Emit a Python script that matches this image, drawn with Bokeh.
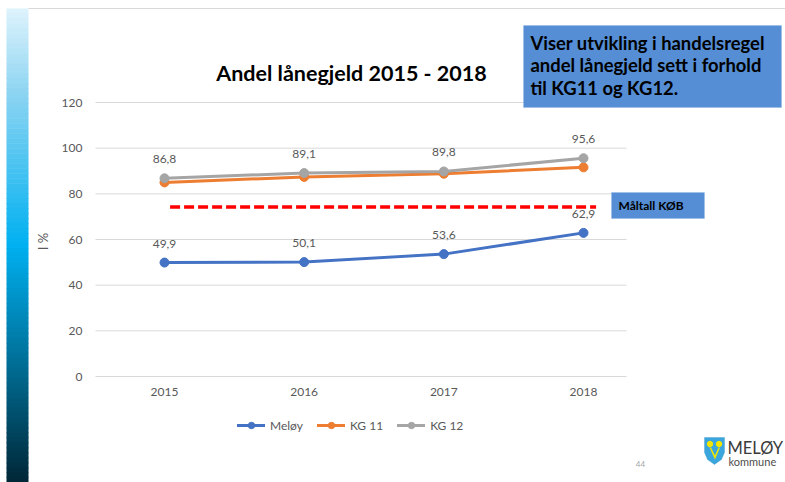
import numpy as np
from bokeh.plotting import figure
from bokeh.models import (Range1d, LinearAxis, FixedTicker, Label, BoxAnnotation,
                          PolyAnnotation, Legend, LegendItem)
from bokeh.embed import file_html
from bokeh.resources import INLINE

# ---------------- data ----------------
years = [2015, 2016, 2017, 2018]
x_tick_labels = ["2015", "2016", "2017", "2018"]
meloy = [49.9, 50.1, 53.6, 62.9]
kg11 = [85.0, 87.4, 88.8, 91.6]
kg12 = [86.8, 89.1, 89.8, 95.6]
target_years = [2015.04, 2018.09]
target_values = [74.2, 74.2]
y_ticks = [0, 20, 40, 60, 80, 100, 120]
series_names = ["Meløy", "KG 11", "KG 12"]

# ---------------- layout (page pixels) ----------------
W, H, M = 785, 482, 0
X2015_PX, XSTEP_PX = 164.0, 139.67
Y0_PX, YUNIT_PX = 376.0, 274.0 / 120.0
GRID_LEFT_PX, GRID_RIGHT_PX = 95.0, 626.0


def xval(px):
    return 2015 + (px - X2015_PX) / XSTEP_PX


def yval(py):
    return (Y0_PX - py) / YUNIT_PX


def sx(px):
    return px - M


def sy(py):
    return (M + H) - py


FONT = "Lato"
GRAY_TXT = "#595959"

p = figure(width=W, height=H, output_backend="svg", toolbar_location=None,
           x_axis_location=None, y_axis_location=None,
           x_range=Range1d(xval(M), xval(M + W)),
           y_range=Range1d(yval(M + H), yval(M)),
           min_border=0, min_border_left=0, min_border_right=0,
           min_border_top=0, min_border_bottom=0,
           outline_line_color=None, background_fill_color="white",
           border_fill_color="white")
for g in p.grid:
    g.visible = False

# left gradient bar
stops = [(0.0, (222, 243, 252)), (0.18, (140, 212, 242)), (0.5, (0, 176, 240)),
         (0.75, (0, 110, 150)), (1.0, (0, 38, 54))]


def grad(t):
    for (t0, c0), (t1, c1) in zip(stops[:-1], stops[1:]):
        if t0 <= t <= t1:
            f = (t - t0) / (t1 - t0)
            return "#%02x%02x%02x" % tuple(int(round(a + (b - a) * f)) for a, b in zip(c0, c1))
    return "#%02x%02x%02x" % stops[-1][1]


BAR_TOP, BAR_BOT = 8.0, 482.0
N = 95
for i in range(N):
    t0 = BAR_TOP + i * (BAR_BOT - BAR_TOP) / N
    t1 = BAR_TOP + (i + 1) * (BAR_BOT - BAR_TOP) / N + 0.6
    p.add_layout(BoxAnnotation(left=sx(6), right=sx(28), top=sy(t0), bottom=sy(t1),
                               left_units="screen", right_units="screen",
                               top_units="screen", bottom_units="screen",
                               fill_color=grad((i + 0.5) / N), fill_alpha=1.0,
                               line_color=None))

# top thin border line
p.add_layout(BoxAnnotation(left=sx(28), right=sx(785), top=sy(7.5), bottom=sy(8.5),
                           left_units="screen", right_units="screen",
                           top_units="screen", bottom_units="screen",
                           fill_color="#d9d9d9", fill_alpha=1.0, line_color=None))

# gridlines
p.segment(x0=xval(GRID_LEFT_PX), x1=xval(GRID_RIGHT_PX), y0=y_ticks, y1=y_ticks,
          line_color="#d9d9d9", line_width=1)

# axes (library axes, fixed inside the frame)
yaxis = LinearAxis(fixed_location=xval(GRID_LEFT_PX), ticker=FixedTicker(ticks=y_ticks),
                   axis_line_color=None, major_tick_line_color=None,
                   minor_tick_line_color=None, major_tick_out=0, major_tick_in=0,
                   major_label_standoff=13, major_label_text_font=FONT,
                   major_label_text_font_size="12px", major_label_text_color=GRAY_TXT,
                   axis_label="I %", axis_label_text_font=FONT,
                   axis_label_text_font_size="13px", axis_label_text_color=GRAY_TXT,
                   axis_label_text_font_style="normal", axis_label_standoff=8)
p.add_layout(yaxis, "left")

xaxis = LinearAxis(fixed_location=0, ticker=FixedTicker(ticks=years),
                   major_label_overrides={y: l for y, l in zip(years, x_tick_labels)},
                   axis_line_color=None, major_tick_line_color=None,
                   minor_tick_line_color=None, major_tick_out=0, major_tick_in=0,
                   major_label_standoff=11, major_label_text_font=FONT,
                   major_label_text_font_size="12px", major_label_text_color=GRAY_TXT)
p.add_layout(xaxis, "below")

# target line
p.line(target_years, target_values, line_color="#ff0000", line_width=3.5, line_dash="10 4")

# series
colors = ["#4472c4", "#ed7d31", "#a5a5a5"]
items = []
for name, vals, c in zip(series_names, [meloy, kg11, kg12], colors):
    rl = p.line(years, vals, line_color=c, line_width=3, line_join="round", line_cap="round")
    rs = p.scatter(years, vals, size=9, fill_color=c, line_color=c)
    items.append(LegendItem(label=name, renderers=[rl, rs]))


def fmt(v):
    return ("%.1f" % v).replace(".", ",")


for vals in [meloy, kg12]:
    p.text(years, vals, text=[fmt(v) for v in vals], y_offset=-19,
           text_align="center", text_baseline="middle", text_font_size="12px",
           text_color=GRAY_TXT, text_font={"value": FONT})

legend = Legend(items=items, orientation="horizontal", location=(sx(237), sy(433)),
                glyph_width=28, glyph_height=16, label_standoff=5, spacing=14,
                padding=0, margin=0, border_line_color=None, background_fill_alpha=0,
                label_text_font=FONT, label_text_font_size="12px",
                label_text_color=GRAY_TXT, label_height=16)
p.add_layout(legend)

# title
p.add_layout(Label(x=sx(351), y=sy(72), x_units="screen", y_units="screen",
                   text="Andel lånegjeld 2015 - 2018", text_align="center",
                   text_baseline="middle", text_font=FONT, text_font_style="bold",
                   text_font_size="21.5px", text_color="#000000"))

# blue info box
p.add_layout(BoxAnnotation(left=sx(523), right=sx(781), top=sy(25), bottom=sy(107),
                           left_units="screen", right_units="screen",
                           top_units="screen", bottom_units="screen",
                           fill_color="#558ed5", fill_alpha=1.0,
                           line_color="#8db3e2", line_width=1))
for txt, py in [("Viser utvikling i handelsregel", 42),
                ("andel lånegjeld sett i forhold", 64),
                ("til KG11 og KG12.", 87)]:
    p.add_layout(Label(x=sx(530), y=sy(py), x_units="screen", y_units="screen",
                       text=txt, text_align="left", text_baseline="middle",
                       text_font=FONT, text_font_style="bold", text_font_size="18.4px",
                       text_color="#000000"))

# Måltall box
p.add_layout(BoxAnnotation(left=sx(611), right=sx(704), top=sy(192), bottom=sy(218),
                           left_units="screen", right_units="screen",
                           top_units="screen", bottom_units="screen",
                           fill_color="#558ed5", fill_alpha=1.0,
                           line_color="#8db3e2", line_width=1))
p.add_layout(Label(x=sx(618), y=sy(205), x_units="screen", y_units="screen",
                   text="Måltall KØB", text_align="left", text_baseline="middle",
                   text_font=FONT, text_font_style="bold", text_font_size="12px",
                   text_color="#000000"))

# page number
p.add_layout(Label(x=sx(640), y=sy(463), x_units="screen", y_units="screen",
                   text="44", text_align="center", text_baseline="middle",
                   text_font=FONT, text_font_size="8px", text_color="#a6a6a6"))

# logo
shield_x = [704, 724, 724, 721, 714, 707, 704]
shield_y = [437, 437, 452, 459, 464, 459, 452]
p.add_layout(PolyAnnotation(xs=[sx(v) for v in shield_x], ys=[sy(v) for v in shield_y],
                            xs_units="screen", ys_units="screen",
                            fill_color="#3aa6dd", fill_alpha=1.0, line_color="#2c8fc4",
                            line_width=1))
th = np.linspace(0, 2 * np.pi, 13)
for cx, cy in [(709.5, 443.5), (718.5, 443.5)]:
    p.add_layout(PolyAnnotation(xs=list(sx(cx + 3.2 * np.cos(th))),
                                ys=list(sy(cy + 3.2 * np.sin(th))),
                                xs_units="screen", ys_units="screen",
                                fill_color="#f2e600", fill_alpha=1.0, line_color=None))
p.add_layout(PolyAnnotation(xs=[sx(v) for v in [709, 710.5, 714.5, 718, 719.5, 714.5]],
                            ys=[sy(v) for v in [447, 447, 455, 447, 447, 459]],
                            xs_units="screen", ys_units="screen",
                            fill_color="#f2e600", fill_alpha=1.0, line_color=None))
p.add_layout(Label(x=sx(727), y=sy(447), x_units="screen", y_units="screen",
                   text="MELØY", text_align="left", text_baseline="middle",
                   text_font=FONT, text_font_size="16.5px", text_color="#3a3a3a"))
p.add_layout(Label(x=sx(728), y=sy(461), x_units="screen", y_units="screen",
                   text="kommune", text_align="left", text_baseline="middle",
                   text_font=FONT, text_font_size="11px", text_color="#4d4d4d"))

open("out.html", "w").write(file_html(p, INLINE))
